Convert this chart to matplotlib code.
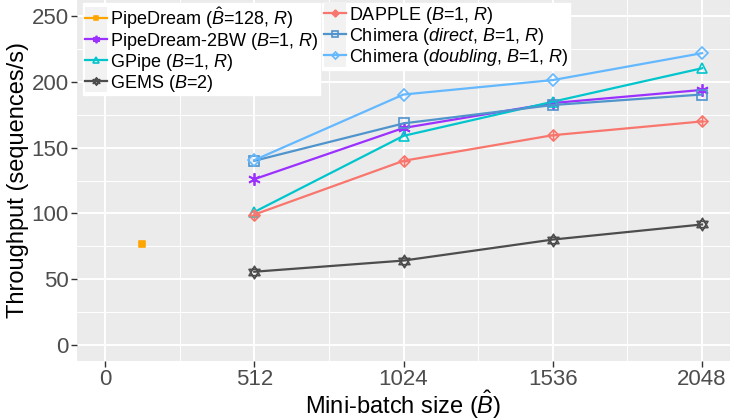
import matplotlib
matplotlib.use('Agg')
import matplotlib.pyplot as plt
from matplotlib.path import Path
from matplotlib.patches import Rectangle
from matplotlib.legend_handler import HandlerLine2D

plt.rcParams['font.family'] = ['Liberation Sans', 'DejaVu Sans']
plt.rcParams['mathtext.fontset'] = 'custom'
plt.rcParams['mathtext.rm'] = 'Liberation Sans'
plt.rcParams['mathtext.it'] = 'Liberation Sans:italic'

# data
batch = [512, 1024, 1536, 2048]
pipedream_x = [128]
pipedream_y = [77]
gems = [55.5, 64, 80, 91.5]
dapple = [99, 140, 159.5, 170]
gpipe = [101, 159, 185, 210.5]
pd2bw = [126, 165, 184, 194]
chim_direct = [140, 168.5, 182.5, 190.5]
chim_doubling = [140.5, 190.5, 201.5, 222]
xticks = [0, 512, 1024, 1536, 2048]
yticks = [0, 50, 100, 150, 200, 250]

# custom ggplot-like shapes
def compound(parts):
    verts, codes = [], []
    for pts, closed in parts:
        verts += pts
        codes += [Path.MOVETO] + [Path.LINETO] * (len(pts) - 1)
        if closed:
            verts.append(pts[0])
            codes.append(Path.CLOSEPOLY)
    return Path(verts, codes)

star_david = compound([([(0, 1), (-0.87, -0.5), (0.87, -0.5)], True),
                       ([(0, -1), (-0.87, 0.5), (0.87, 0.5)], True)])
diamond_plus = compound([([(0, 1), (-1, 0), (0, -1), (1, 0)], True),
                         ([(0, 1), (0, -1)], False),
                         ([(-1, 0), (1, 0)], False)])
square_plus = compound([([(-1, -1), (-1, 1), (1, 1), (1, -1)], True),
                        ([(0, 1), (0, -1)], False),
                        ([(-1, 0), (1, 0)], False)])


# legend key with grey background, like ggplot
class KeyHandler(HandlerLine2D):
    def create_artists(self, legend, orig_handle, xdescent, ydescent,
                       width, height, fontsize, trans):
        arts = super().create_artists(legend, orig_handle, xdescent, ydescent,
                                      width, height, fontsize, trans)
        pad = 3.5
        bg = Rectangle((-xdescent, -ydescent - pad), width, height + 2 * pad,
                       fc='#F2F2F2', ec='none', transform=trans)
        return [bg] + arts


fig = plt.figure(figsize=(7.3, 4.2), dpi=100)
ax = fig.add_axes([77 / 730, 1 - 361 / 420, 653 / 730, 361 / 420])
ax.set_facecolor('#EBEBEB')
for s in ax.spines.values():
    s.set_visible(False)

ax.set_xlim(-96, 2144)
ax.set_ylim(-12.5, 262.5)
ax.set_xticks(xticks)
ax.set_yticks(yticks)
ax.set_xticks([256, 768, 1280, 1792], minor=True)
ax.set_yticks([25, 75, 125, 175, 225], minor=True)
ax.grid(which='major', color='white', lw=1.4)
ax.grid(which='minor', color='white', lw=0.7)
ax.set_axisbelow(True)
ax.tick_params(which='major', length=4, width=1, color='#333333',
               labelsize=16, labelcolor='#4D4D4D', pad=2)
ax.tick_params(which='minor', length=0)

ax.set_xlabel(r'Mini-batch size ($\hat{B}$)', fontsize=17, labelpad=-1)
ax.set_ylabel('Throughput (sequences/s)', fontsize=17, labelpad=2)

lw = 1.6
ms = 7
h_pd, = ax.plot(pipedream_x, pipedream_y, color='#FFA500', marker=square_plus,
                ms=5, mew=1.2, mfc='#FFA500', lw=lw,
                label=r'PipeDream ($\hat{B}$=128, $R$)')
h_2bw, = ax.plot(batch, pd2bw, color='#9B30FF', marker=(6, 2, 0), ms=9, mew=1.3,
                 lw=lw, label=r'PipeDream-2BW ($B$=1, $R$)')
h_gp, = ax.plot(batch, gpipe, color='#00C5CD', marker='^', ms=ms, mew=1.2,
                mfc='none', lw=lw, label=r'GPipe ($B$=1, $R$)')
h_gems, = ax.plot(batch, gems, color='#4D4D4D', marker=star_david, ms=9, mew=1.2,
                  mfc='none', lw=lw, label=r'GEMS ($B$=2)')
h_dap, = ax.plot(batch, dapple, color='#F8766D', marker=diamond_plus, ms=8, mew=1.2,
                 mfc='none', lw=lw, label=r'DAPPLE ($B$=1, $R$)')
h_cd, = ax.plot(batch, chim_direct, color='#4F94CD', marker='s', ms=6.5, mew=1.2,
                mfc='none', lw=lw, label=r'Chimera ($direct$, $B$=1, $R$)')
h_cdb, = ax.plot(batch, chim_doubling, color='#63B8FF', marker='D', ms=6, mew=1.2,
                 mfc='none', lw=lw, label=r'Chimera ($doubling$, $B$=1, $R$)')

common = dict(fontsize=13, frameon=True, fancybox=False, framealpha=1,
              edgecolor='white', facecolor='white', borderaxespad=0,
              handlelength=1.25, handletextpad=0.15, labelspacing=0.0,
              borderpad=0.1, markerscale=0.6,
              handler_map={matplotlib.lines.Line2D: KeyHandler()},
              bbox_transform=fig.transFigure, loc='upper left')
leg1 = ax.legend(handles=[h_pd, h_2bw, h_gp, h_gems],
                 bbox_to_anchor=(83 / 730, 1 - 3 / 420), **common)
ax.add_artist(leg1)
leg2 = ax.legend(handles=[h_dap, h_cd, h_cdb],
                 bbox_to_anchor=(322 / 730, 1 - 3 / 420), **common)

fig.savefig('out.png', dpi=100)
